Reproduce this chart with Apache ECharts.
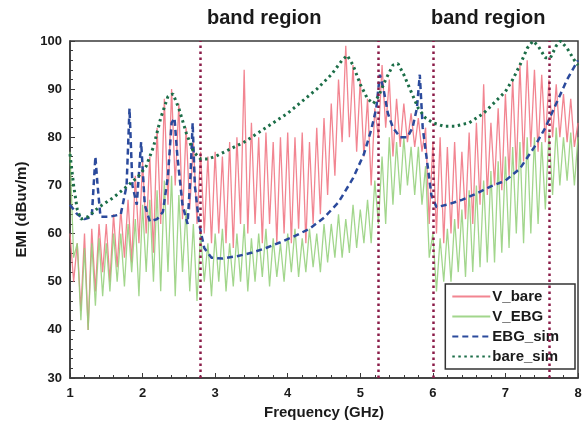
<!DOCTYPE html>
<html>
<head>
<meta charset="utf-8">
<script src="https://cdn.jsdelivr.net/npm/echarts@6/dist/echarts.min.js"></script>
<style>html,body{margin:0;padding:0;background:#fff;}#c{width:585px;height:434px;}</style>
</head>
<body>
<div id="c"></div>
<script>
// measured frequency grid (GHz)
const freqMeas = [
1.00,1.05,1.10,1.15,1.20,1.25,1.30,1.35,1.40,1.45,
1.50,1.55,1.60,1.65,1.70,1.75,1.80,1.85,1.90,1.95,
2.00,2.05,2.10,2.15,2.20,2.25,2.30,2.35,2.40,2.45,
2.50,2.55,2.60,2.65,2.70,2.75,2.80,2.85,2.90,2.95,
3.00,3.05,3.10,3.15,3.20,3.25,3.30,3.35,3.40,3.45,
3.50,3.55,3.60,3.65,3.70,3.75,3.80,3.85,3.90,3.95,
4.00,4.05,4.10,4.15,4.20,4.25,4.30,4.35,4.40,4.45,
4.50,4.55,4.60,4.65,4.70,4.75,4.80,4.85,4.90,4.95,
5.00,5.05,5.10,5.15,5.20,5.25,5.30,5.35,5.40,5.45,
5.50,5.55,5.60,5.65,5.70,5.75,5.80,5.85,5.90,5.95,
6.00,6.05,6.10,6.15,6.20,6.25,6.30,6.35,6.40,6.45,
6.50,6.55,6.60,6.65,6.70,6.75,6.80,6.85,6.90,6.95,
7.00,7.05,7.10,7.15,7.20,7.25,7.30,7.35,7.40,7.45,
7.50,7.55,7.60,7.65,7.70,7.75,7.80,7.85,7.90,7.95,
8.00];
const vBare = [
60,50,58,44,60,40,61,48,62,52,
62,50,64,53,65,55,67,54,72,58,
75,60,76,56,82,62,88,66,90,70,
87,63,82,65,79,62,77,60,76,58,
77,60,76,58,79,57,80,62,94,60,
83,62,80,58,81,62,79,58,80,60,
81,58,80,61,81,58,79,62,82,64,
84,68,87,72,92,79,99,80,95,77,
92,76,88,70,86,80,95,82,92,76,
88,78,87,79,85,78,84,77,82,62,
79,60,80,58,78,60,79,61,77,63,
81,62,83,66,91,68,83,70,86,69,
89,72,92,73,95,75,96,78,94,77,
93,79,92,80,91,80,89,79,88,78,
83];
const vEBG = [
77,55,58,42,57,40,58,45,59,47,
58,48,60,50,60,49,62,52,63,47,
66,52,67,50,69,48,71,52,72,47,
68,52,65,48,62,46,60,50,58,47,
60,50,61,48,58,49,60,50,62,48,
59,50,60,51,61,49,59,51,58,50,
60,52,61,51,59,52,61,53,60,52,
62,54,62,55,64,55,63,56,66,57,
65,58,67,58,71,62,76,62,80,66,
79,68,80,70,78,68,78,66,74,55,
60,48,59,50,61,50,63,52,65,51,
69,52,70,53,71,54,73,54,75,56,
76,57,78,60,79,58,80,60,80,62,
79,65,81,68,82,70,80,71,81,70,
80];
// simulated curves
const freqEbgSim = [1.00,1.10,1.20,1.30,1.35,1.38,1.42,1.55,1.70,1.78,1.82,1.86,1.92,1.98,2.03,2.10,2.20,2.28,2.35,2.40,2.44,2.48,2.55,2.62,2.66,2.69,2.72,2.78,2.85,2.95,3.10,3.30,3.50,3.70,3.90,4.10,4.30,4.50,4.70,4.90,5.05,5.15,5.22,5.27,5.32,5.38,5.45,5.55,5.65,5.72,5.78,5.82,5.86,5.92,5.98,6.05,6.20,6.40,6.60,6.80,7.00,7.20,7.40,7.55,7.70,7.85,8.00];
const ebgSim = [66,64,63,63.5,76,70,63.5,63.5,64,70,86,70,66,79,66,62.5,63,64.5,72,83,84,76,66,62,72,83,70,62,57,55,54.8,55.3,56,57,58.2,59.5,61,63.3,66.5,71.5,76.5,81.5,86,93,90,85,82,80,80,82,86,93,82,75,68,65.5,66,67,68.3,69.8,71,73.5,78,82,87,92,96];
const freqBareSim = [1.00,1.05,1.10,1.15,1.25,1.40,1.60,1.80,1.95,2.05,2.15,2.25,2.35,2.42,2.50,2.60,2.70,2.80,2.90,3.00,3.20,3.40,3.60,3.80,4.00,4.20,4.40,4.60,4.75,4.82,4.90,5.00,5.10,5.18,5.25,5.35,5.45,5.52,5.60,5.70,5.80,5.90,6.00,6.15,6.30,6.50,6.70,6.90,7.00,7.10,7.20,7.30,7.38,7.45,7.55,7.62,7.70,7.76,7.85,7.95,8.00];
const bareSim = [76.5,70,65,63,63.5,65.5,67.5,70,72,74,78,84,88.5,89,86,81,77,75.5,75.5,76,77.5,79,81,83,85,87.5,90,93,96,97,95,91,88,87,88.5,92,95,95.3,93,89.5,86,84,83,82.3,82.3,83,85,88,89.5,92,95,98.5,100,99,96.5,96.5,99,100,98.5,96,95];
// stop-band edges (GHz)
const bandEdges = [2.8, 5.25, 6.0, 7.6];
const bandLabels = ['band region', 'band region'];
const seriesNames = ['V_bare', 'V_EBG', 'EBG_sim', 'bare_sim'];
const xTicks = [1,2,3,4,5,6,7,8];
const yTicks = [30,40,50,60,70,80,90,100];

const zip = (xs, ys) => xs.map((x, i) => [x, ys[i]]);
const font = '"Liberation Sans", Arial, sans-serif';
const axisColor = '#3a3a3a';

const chart = echarts.init(document.getElementById('c'), null, {renderer: 'canvas'});
chart.setOption({
  animation: false,
  backgroundColor: '#fff',
  grid: {left: 70, right: 7, top: 41, bottom: 56, show: true, borderColor: axisColor, borderWidth: 1.5, backgroundColor: 'transparent'},
  graphic: [
    {type: 'text', left: 207, top: 8, style: {text: bandLabels[0], font: 'bold 20px ' + font, fill: '#1a1a1a'}},
    {type: 'text', left: 431, top: 8, style: {text: bandLabels[1], font: 'bold 20px ' + font, fill: '#1a1a1a'}}
  ],
  legend: {
    data: seriesNames,
    orient: 'vertical',
    right: 10, top: 284,
    itemWidth: 38, itemHeight: 12, itemGap: 5,
    padding: [5, 16, 5, 6],
    borderColor: '#333', borderWidth: 1.5,
    backgroundColor: 'rgba(255,255,255,0)',
    itemStyle: {opacity: 0},
    textStyle: {fontFamily: font, fontWeight: 'bold', fontSize: 15, color: '#1a1a1a', padding: [0, 0, 0, -3]}
  },
  xAxis: {
    type: 'value', min: xTicks[0], max: xTicks[xTicks.length - 1], interval: 1,
    name: 'Frequency (GHz)', nameLocation: 'middle', nameGap: 27,
    nameTextStyle: {fontFamily: font, fontWeight: 'bold', fontSize: 15, color: '#1a1a1a'},
    axisLine: {lineStyle: {color: axisColor, width: 1.5}},
    axisTick: {inside: true, length: 5, lineStyle: {color: axisColor}},
    minorTick: {show: true, splitNumber: 5, length: 3, lineStyle: {color: axisColor}},
    axisLabel: {margin: 9, fontFamily: font, fontWeight: 'bold', fontSize: 13, color: '#1a1a1a'},
    splitLine: {show: false}
  },
  yAxis: {
    type: 'value', min: yTicks[0], max: yTicks[yTicks.length - 1], interval: 10,
    name: 'EMI (dBuv/m)', nameLocation: 'middle', nameGap: 40,
    nameTextStyle: {fontFamily: font, fontWeight: 'bold', fontSize: 15, color: '#1a1a1a'},
    axisLine: {show: true, lineStyle: {color: axisColor, width: 1.5}},
    axisTick: {show: true, inside: true, length: 5, lineStyle: {color: axisColor}},
    minorTick: {show: true, splitNumber: 5, length: 3, lineStyle: {color: axisColor}},
    axisLabel: {margin: 8, fontFamily: font, fontWeight: 'bold', fontSize: 13, color: '#1a1a1a'},
    splitLine: {show: false}
  },
  series: [
    {name: seriesNames[0], type: 'line', data: zip(freqMeas, vBare), showSymbol: false, symbol: 'none',
     lineStyle: {color: '#f0707e', width: 1.3, opacity: 0.85}, itemStyle: {color: '#f0707e'}, z: 2},
    {name: seriesNames[1], type: 'line', data: zip(freqMeas, vEBG), showSymbol: false, symbol: 'none',
     lineStyle: {color: '#92cf78', width: 1.3, opacity: 0.85}, itemStyle: {color: '#92cf78'}, z: 3},
    {name: seriesNames[2], type: 'line', data: zip(freqEbgSim, ebgSim), showSymbol: false, symbol: 'none',
     lineStyle: {color: '#2b4a9c', width: 2.5, type: [6, 4]}, itemStyle: {color: '#2b4a9c'}, z: 4,
     markLine: {silent: true, symbol: 'none', label: {show: false},
       lineStyle: {color: '#8a1c48', width: 2.5, type: [2.5, 3.5]},
       data: bandEdges.map(v => ({xAxis: v}))}},
    {name: seriesNames[3], type: 'line', data: zip(freqBareSim, bareSim), showSymbol: false, symbol: 'none',
     lineStyle: {color: '#1c6e48', width: 3, type: [2.5, 3.5]}, itemStyle: {color: '#1c6e48'}, z: 5}
  ]
});
</script>
</body>
</html>
